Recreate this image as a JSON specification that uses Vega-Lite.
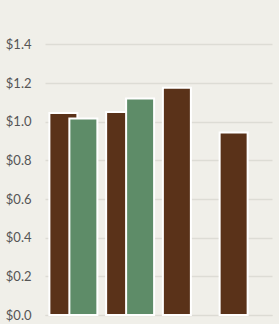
{
  "$schema": "https://vega.github.io/schema/vega-lite/v6.json",
  "autosize": "none",
  "width": 227,
  "height": 290,
  "padding": {"left": 45, "top": 25, "right": 7, "bottom": 9},
  "background": "#f0efe9",
  "config": {"view": {"stroke": null}},
  "data": {"values": [
    {"group": "A", "series": "s1", "value": 1.045},
    {"group": "A", "series": "s2", "value": 1.016},
    {"group": "B", "series": "s1", "value": 1.05},
    {"group": "B", "series": "s2", "value": 1.12},
    {"group": "C", "series": "s1", "value": 1.175},
    {"group": "D", "series": "s1", "value": 0.944}
  ]},
  "mark": {"type": "bar", "width": 28, "stroke": "#ffffff", "strokeWidth": 2},
  "encoding": {
    "x": {"field": "group", "type": "nominal", "scale": {"domain": ["A", "B", "C", "D"], "paddingInner": 0, "paddingOuter": 0},
      "axis": {"title": null, "labels": false, "ticks": false, "domain": true, "domainColor": "#dcdbd4", "grid": false}},
    "xOffset": {"field": "series", "type": "nominal", "scale": {"domain": ["s1", "s2"], "paddingInner": 0, "paddingOuter": 0.42}},
    "y": {"field": "value", "type": "quantitative", "scale": {"domain": [0, 1.5], "nice": false},
      "axis": {"title": null, "values": [0, 0.2, 0.4, 0.6, 0.8, 1.0, 1.2, 1.4], "format": "$.1f", "domain": false, "ticks": false,
        "labelPadding": 14, "labelFont": "Lato", "labelFontSize": 13, "labelColor": "#555555",
        "gridColor": "#dddcd5", "gridWidth": 1.5}},
    "color": {"field": "series", "type": "nominal", "scale": {"domain": ["s1", "s2"], "range": ["#5a3219", "#5e8c68"]}, "legend": null}
  }
}
